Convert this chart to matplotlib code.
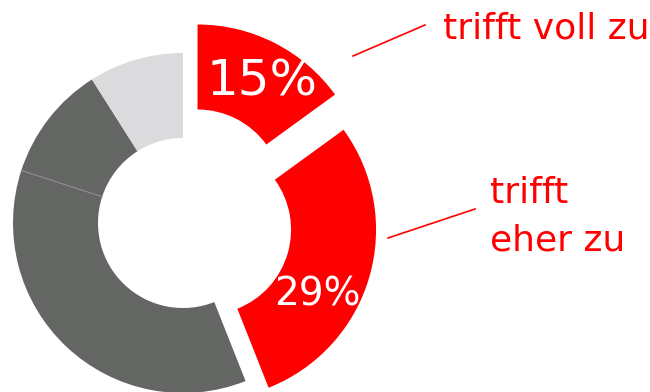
import numpy as np
import matplotlib.pyplot as plt

# Data
categories = ['trifft voll zu', 'trifft eher zu', 'trifft eher nicht zu',
              'trifft gar nicht zu', 'weiß nicht']
shares = [15, 29, 36, 11, 9]
colors = ['#ff0000', '#ff0000', '#646664', '#646664', '#dbdadd']
explode = [32, 24, 0, 0, 0]  # pixels

fig = plt.figure(figsize=(6.5, 3.92), dpi=100)
ax = fig.add_axes([0, 0, 1, 1])

# donut, coordinates in pixels (y up)
cx, cy, r_out, ring = 183, 169, 170, 85
wedges, _ = ax.pie(shares, colors=colors, explode=explode, startangle=90,
                   counterclock=False, radius=r_out, center=(cx, cy),
                   wedgeprops=dict(width=ring, linewidth=0))

# thin light separator between the two dark grey slices
cum = np.cumsum(shares) / sum(shares)
th = np.deg2rad(90 - 360 * cum[2])
ax.plot([cx + (r_out - ring) * np.cos(th), cx + r_out * np.cos(th)],
        [cy + (r_out - ring) * np.sin(th), cy + r_out * np.sin(th)],
        color='#8c8d8c', lw=0.8)

# percentages inside the red slices
ax.text(262, 311, f'{shares[0]}%', color='white', fontsize=36,
        ha='center', va='center')
ax.text(317, 97, f'{shares[1]}%', color='white', fontsize=28,
        ha='center', va='center')

# labels with leader lines
red = '#ff0000'
ax.plot([353, 425], [336, 367], color=red, lw=1.2)
ax.text(443, 354, 'trifft voll zu', color=red, fontsize=26, va='baseline')
ax.plot([388, 475], [154, 183], color=red, lw=1.2)
ax.text(490, 189, 'trifft', color=red, fontsize=26, va='baseline')
ax.text(490, 142, 'eher zu', color=red, fontsize=26, va='baseline')

ax.set_xlim(0, 650)
ax.set_ylim(0, 392)
ax.set_aspect('equal')
ax.axis('off')

fig.savefig('out.png', dpi=100)
